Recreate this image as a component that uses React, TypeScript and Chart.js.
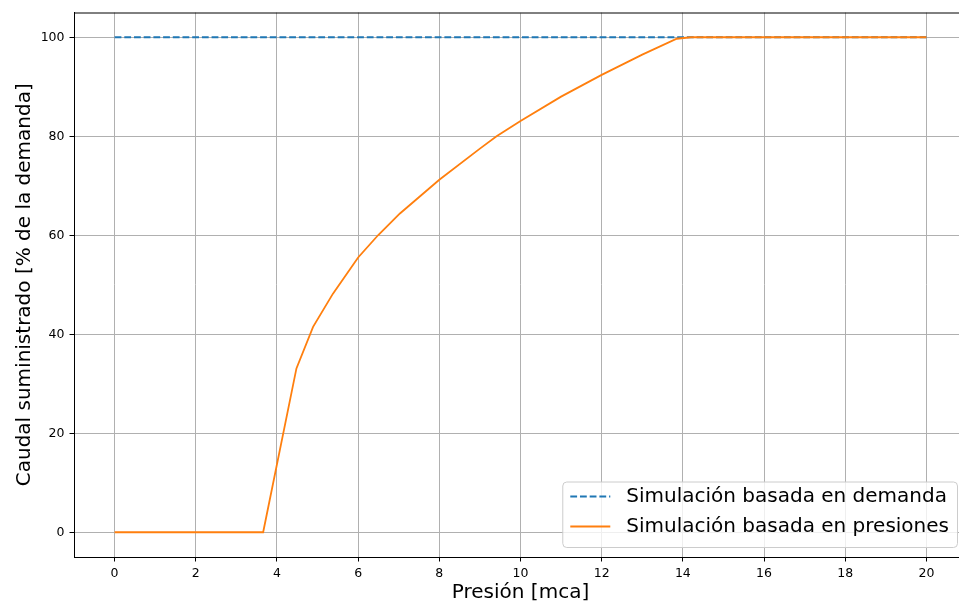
import React, { useEffect, useRef } from "react";
import { Chart, registerables } from "chart.js";

Chart.register(...registerables);

const pressure = [0, 3.66, 4.48, 4.89, 5.38, 6.0, 6.49, 7.03, 8.0, 9.0, 9.41, 10.0, 11.0, 12.0, 13.0, 13.85, 14.2, 20];
const flowPressureBased = [0, 0, 33.1, 41.5, 48.2, 55.5, 60, 64.4, 71.2, 77.5, 80, 83.1, 88.0, 92.4, 96.5, 99.7, 100, 100];
const demandPressure = [0, 20];
const flowDemandBased = [100, 100];
const xTicks = [0, 2, 4, 6, 8, 10, 12, 14, 16, 18, 20];
const yTicks = [0, 20, 40, 60, 80, 100];
const seriesLabels = ["Simulación basada en demanda", "Simulación basada en presiones"];
const xTitle = "Presión [mca]";
const yTitle = "Caudal suministrado [% de la demanda]";

const FONT = '"DejaVu Sans", sans-serif';

const framePlugin = {
  id: "frameAndLegend",
  afterDraw(chart: any) {
    const ctx = chart.ctx as CanvasRenderingContext2D;
    const { top, right, left, bottom } = chart.chartArea;
    ctx.save();
    ctx.strokeStyle = "#000";
    ctx.lineWidth = 1;
    ctx.beginPath();
    ctx.moveTo(left, top + 0.5);
    ctx.lineTo(right, top + 0.5);
    ctx.moveTo(right - 0.5, top);
    ctx.lineTo(right - 0.5, bottom);
    ctx.stroke();

    // legend
    ctx.font = `20px ${FONT}`;
    const ds = chart.data.datasets;
    let maxW = 0;
    ds.forEach((d: any) => {
      maxW = Math.max(maxW, ctx.measureText(d.label).width);
    });
    const boxW = 8 + 40 + 16 + maxW + 8;
    const boxH = 65.5;
    const boxRight = right - 10;
    const boxBottom = bottom - 10;
    const bx = boxRight - boxW;
    const by = boxBottom - boxH;
    ctx.beginPath();
    (ctx as any).roundRect(bx + 0.5, by + 0.5, boxW, boxH, 4);
    ctx.fillStyle = "rgba(255,255,255,0.8)";
    ctx.fill();
    ctx.strokeStyle = "#cccccc";
    ctx.lineWidth = 1;
    ctx.stroke();
    ds.forEach((d: any, i: number) => {
      const y = by + 15 + i * 30;
      ctx.beginPath();
      ctx.strokeStyle = d.borderColor;
      ctx.lineWidth = d.borderWidth;
      ctx.setLineDash(d.borderDash || []);
      ctx.moveTo(bx + 8, y);
      ctx.lineTo(bx + 48, y);
      ctx.stroke();
      ctx.setLineDash([]);
      ctx.fillStyle = "#000";
      ctx.textBaseline = "middle";
      ctx.textAlign = "left";
      ctx.fillText(d.label, bx + 64, y);
    });
    ctx.restore();
  },
};

export default function App() {
  const ref = useRef<HTMLCanvasElement | null>(null);
  useEffect(() => {
    document.documentElement.style.overflow = "hidden";
    document.body.style.margin = "0";
    const canvas = ref.current!;
    const chart = new Chart(canvas, {
      type: "line",
      data: {
        datasets: [
          {
            label: seriesLabels[0],
            data: demandPressure.map((x, i) => ({ x, y: flowDemandBased[i] })),
            borderColor: "#1f77b4",
            borderWidth: 1.8,
            borderDash: [6.8, 2.9],
            pointRadius: 0,
            tension: 0,
            fill: false,
            order: 2,
          },
          {
            label: seriesLabels[1],
            data: pressure.map((x, i) => ({ x, y: flowPressureBased[i] })),
            borderColor: "#ff7f0e",
            borderWidth: 1.8,
            pointRadius: 0,
            tension: 0,
            fill: false,
            order: 1,
          },
        ],
      },
      options: {
        animation: false,
        responsive: true,
        maintainAspectRatio: false,
        layout: { padding: { left: 0, top: 12, right: 13, bottom: 0 } },
        plugins: { legend: { display: false }, tooltip: { enabled: false } },
        scales: {
          x: {
            type: "linear",
            min: -1,
            max: 21,
            afterBuildTicks: (s: any) => {
              s.ticks = xTicks.map((v) => ({ value: v }));
            },
            afterFit: (s: any) => {
              s.height = 46;
            },
            ticks: { color: "#000", font: { family: FONT, size: 12.5 }, padding: 5, maxRotation: 0 },
            grid: { color: "#b0b0b0", lineWidth: 1, tickLength: 4.5, tickColor: "#000", tickWidth: 1 },
            border: { display: true, color: "#000", width: 1 },
            title: {
              display: true,
              text: xTitle,
              color: "#000",
              font: { family: FONT, size: 20, lineHeight: 1 },
              padding: { top: 0, bottom: 0 },
            },
          },
          y: {
            type: "linear",
            min: -5,
            max: 105,
            afterBuildTicks: (s: any) => {
              s.ticks = yTicks.map((v) => ({ value: v }));
            },
            afterFit: (s: any) => {
              s.width = 74;
            },
            ticks: { color: "#000", font: { family: FONT, size: 12.5 }, padding: 5 },
            grid: { color: "#b0b0b0", lineWidth: 1, tickLength: 4.5, tickColor: "#000", tickWidth: 1 },
            border: { display: true, color: "#000", width: 1 },
            title: {
              display: true,
              text: yTitle,
              color: "#000",
              font: { family: FONT, size: 20, lineHeight: 1 },
              padding: { top: 15, bottom: 0 },
            },
          },
        },
      },
      plugins: [framePlugin],
    });
    return () => chart.destroy();
  }, []);
  return (
    <div style={{ position: "fixed", left: 0, top: 0, width: 959, height: 603, overflow: "hidden", background: "#fff" }}>
      <div style={{ position: "relative", width: 980, height: 603 }}>
        <canvas ref={ref} />
      </div>
    </div>
  );
}
